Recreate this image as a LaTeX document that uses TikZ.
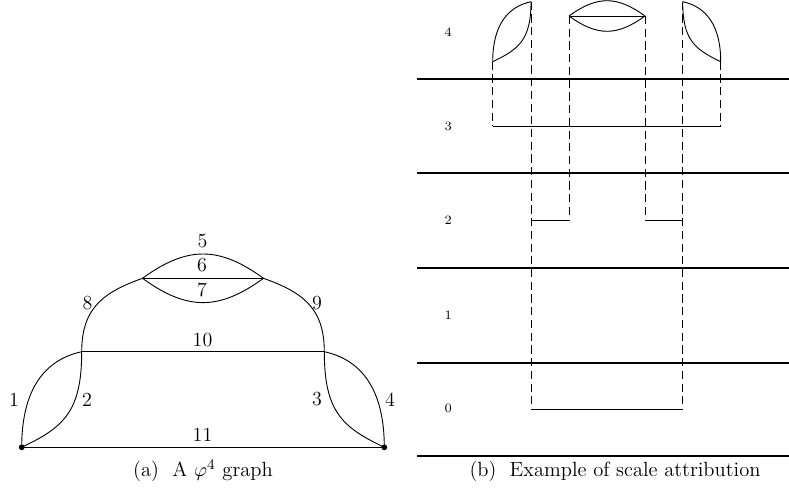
\documentclass[tikz,border=0pt]{standalone}
\usetikzlibrary{calc}
\begin{document}
\begin{tikzpicture}[x=0.55pt,y=-0.55pt,
  edge/.style={line width=0.5pt},
  lvl/.style={line width=1.1pt},
  proj/.style={line width=0.5pt,dash pattern=on 4.5pt off 2.5pt},
  lab/.style={font=\fontsize{11}{13}\selectfont,inner sep=0pt},
  captxt/.style={font=\fontsize{11.3}{13.5}\selectfont,inner sep=0pt},
  slab/.style={font=\scriptsize,inner sep=0pt},
  vdot/.style={circle,fill,inner sep=0pt,minimum size=3.2pt}]
\useasboundingbox (0,0) rectangle (789,501);
% ---------- (a) graph ----------
\node[vdot] (a) at (21.7,447.3) {};
\node[vdot] (b) at (384.3,447.3) {};
\coordinate (v1) at (81.7,351.7);
\coordinate (v2) at (324.3,351.7);
\coordinate (w1) at (142.5,278.3);
\coordinate (w2) at (263.5,278.3);
\draw[edge] (a.center) .. controls ($(a.center)+(0,-58)$) and ($(v1)+(-37,8)$) .. (v1);
\draw[edge] (a.center) .. controls ($(a.center)+(42,-20)$) and ($(v1)+(0,60)$) .. (v1);
\draw[edge] (b.center) .. controls ($(b.center)+(0,-58)$) and ($(v2)+(37,8)$) .. (v2);
\draw[edge] (b.center) .. controls ($(b.center)+(-42,-20)$) and ($(v2)+(0,60)$) .. (v2);
\draw[edge] (v1) .. controls ($(v1)+(0,-45)$) and ($(w1)+(-37.6,13.6)$) .. (w1);
\draw[edge] (v2) .. controls ($(v2)+(0,-45)$) and ($(w2)+(37.6,13.6)$) .. (w2);
\draw[edge] (w1) .. controls ($(w1)+(44.6,-32.4)$) and ($(w2)+(-44.6,-32.4)$) .. (w2);
\draw[edge] (w1) .. controls ($(w1)+(44.6,32.4)$) and ($(w2)+(-44.6,32.4)$) .. (w2);
\draw[edge] (w1) -- (w2);
\draw[edge] (v1) -- (v2);
\draw[edge] (a.center) -- (b.center);
\node[lab] (l5) at (202.5,241) {5};
\node[lab] (l6) at (202,265) {6};
\node[lab] (l7) at (202,289.5) {7};
\node[lab] (l8) at (87.5,303.5) {8};
\node[lab] (l9) at (317,303.5) {9};
\node[lab] (l10) at (202.5,340) {10};
\node[lab] (l1) at (14,400) {1};
\node[lab] (l2) at (87,400) {2};
\node[lab] (l3) at (317,399) {3};
\node[lab] (l4) at (390,400) {4};
\node[lab] (l11) at (202.5,434.5) {11};
\node[captxt] (capa) at (203,471) {(a)\ \ A $\varphi^4$ graph};
% ---------- (b) scales ----------
\foreach \y/\n in {79/h4,173.3/h3,267.7/h2,362.7/h1,456.3/h0}{
  \coordinate (\n s) at (417,\y);
  \coordinate (\n e) at (789,\y);
  \draw[lvl] (\n s) -- (\n e);
}
\node[slab] (s4) at (448.3,32.7) {4};
\node[slab] (s3) at (448.3,126.7) {3};
\node[slab] (s2) at (448.3,220.7) {2};
\node[slab] (s1) at (448.3,315) {1};
\node[slab] (s0) at (448.3,408.3) {0};
\coordinate (lA) at (492.7,61.7);
\coordinate (lB) at (531,1.7);
\coordinate (rA) at (720.7,61.7);
\coordinate (rB) at (682.7,1.7);
\coordinate (mL) at (569,16);
\coordinate (mR) at (645,16);
\draw[edge] (lA) .. controls ($(lA)+(0,-36.5)$) and ($(lB)+(-23.3,5)$) .. (lB);
\draw[edge] (lA) .. controls ($(lA)+(26.5,-12.6)$) and ($(lB)+(0,37.8)$) .. (lB);
\draw[edge] (rA) .. controls ($(rA)+(0,-36.5)$) and ($(rB)+(23.3,5)$) .. (rB);
\draw[edge] (rA) .. controls ($(rA)+(-26.5,-12.6)$) and ($(rB)+(0,37.8)$) .. (rB);
\draw[edge] (mL) .. controls ($(mL)+(28.1,-20.4)$) and ($(mR)+(-28.1,-20.4)$) .. (mR);
\draw[edge] (mL) .. controls ($(mL)+(28.1,20.4)$) and ($(mR)+(-28.1,20.4)$) .. (mR);
\draw[edge] (mL) -- (mR);
\coordinate (c3L) at (492.7,126);
\coordinate (c3R) at (720.7,126);
\coordinate (c2a) at (531,220);
\coordinate (c2b) at (569,220);
\coordinate (c2c) at (645,220);
\coordinate (c2d) at (682.7,220);
\coordinate (c0L) at (531,409.3);
\coordinate (c0R) at (682.7,409.3);
\draw[proj] (lA) -- (c3L);
\draw[proj] (rA) -- (c3R);
\draw[edge] (c3L) -- (c3R);
\draw[proj] (lB) -- (c0L);
\draw[proj] (rB) -- (c0R);
\draw[proj] (mL) -- (c2b);
\draw[proj] (mR) -- (c2c);
\draw[edge] (c2a) -- (c2b);
\draw[edge] (c2c) -- (c2d);
\draw[edge] (c0L) -- (c0R);
\node[captxt] (capb) at (615,471) {(b)\ \ Example of scale attribution};
\end{tikzpicture}
\end{document}
